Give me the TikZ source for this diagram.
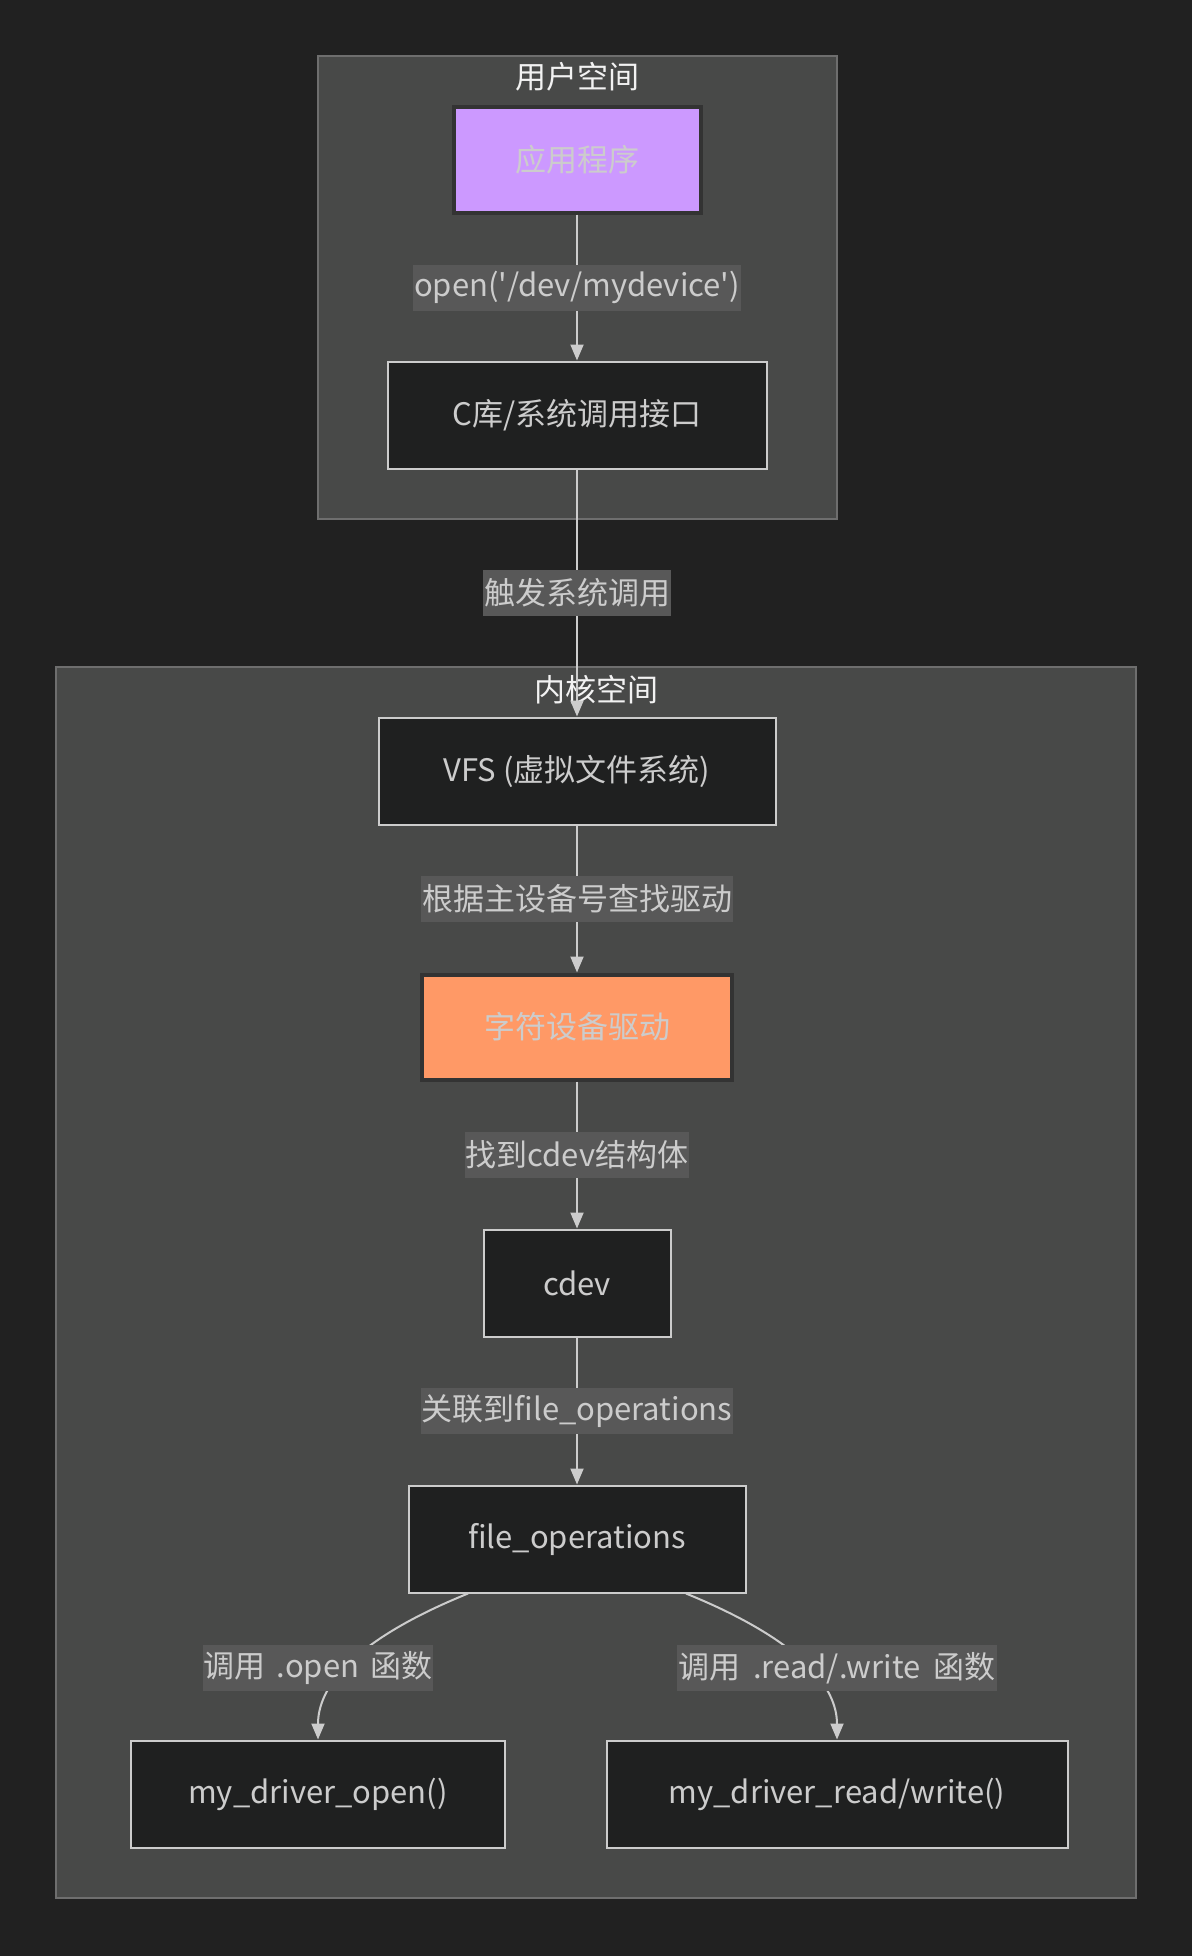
\documentclass[tikz,border=0pt]{standalone}
\usepackage{fontspec}
\setmainfont{Noto Sans CJK SC}
\usetikzlibrary{arrows.meta,positioning}

\definecolor{bg}{HTML}{212121}
\definecolor{clusterfill}{HTML}{484948}
\definecolor{clusterline}{HTML}{6E6E6E}
\definecolor{nodefill}{HTML}{1F2020}
\definecolor{lblfill}{HTML}{585858}
\definecolor{txt}{HTML}{CCCCCC}
\definecolor{dark}{HTML}{333333}
\definecolor{appcol}{HTML}{CC99FF}
\definecolor{drvcol}{HTML}{FF9966}

\begin{document}
\begin{tikzpicture}[x=1pt, y=-1pt,
    every node/.style={font=\fontsize{31}{37}\selectfont, text=txt},
    box/.style={draw=txt, fill=nodefill, line width=2pt, minimum height=107pt},
    hot/.style={draw=dark, line width=4pt, minimum height=105pt},
    cluster/.style={draw=clusterline, fill=clusterfill, line width=1.5pt},
    title/.style={text=white!95!black},
    lbl/.style={fill=lblfill, inner xsep=1pt, inner ysep=0pt, minimum height=46pt},
    arrow/.style={-{Triangle[length=16pt,width=13pt]}, draw=txt, line width=2pt}
]

% sfondo
\fill[bg] (0,0) rectangle (1192,1956);

% spazio utente / spazio kernel
\draw[cluster] (318,56) rectangle (837,519);
\node[title] (tuser) at (577,77) {用户空间};
\draw[cluster] (56,667) rectangle (1136,1898);
\node[title] (tkern) at (596,690) {内核空间};

% nodi
\node[hot, fill=appcol, minimum width=247pt] (app) at (577,160) {应用程序};
\node[box, minimum width=379pt] (clib) at (577,415) {C库/系统调用接口};
\node[box, minimum width=397pt] (vfs) at (577,771) {VFS (虚拟文件系统)};
\node[hot, fill=drvcol, minimum width=310pt] (chr) at (577,1027) {字符设备驱动};
\node[box, minimum width=187pt] (cdev) at (577,1283) {cdev};
\node[box, minimum width=337pt] (fops) at (577,1539) {file\_operations};
\node[box, minimum width=374pt] (myopen) at (318,1794) {my\_driver\_open()};
\node[box, minimum width=461pt] (myrw) at (837,1794) {my\_driver\_read/write()};

% frecce
\draw[arrow] (app) -- node[lbl] {open(\textquotesingle/dev/mydevice\textquotesingle)} (clib);
\draw[arrow] (clib) -- node[lbl] {触发系统调用} (vfs);
\draw[arrow] (vfs) -- node[lbl] {根据主设备号查找驱动} (chr);
\draw[arrow] (chr) -- node[lbl] {找到cdev结构体} (cdev);
\draw[arrow] (cdev) -- node[lbl] {关联到file\_operations} (fops);

% rami verso le funzioni
\coordinate (c6) at (318,1668);
\coordinate (c7) at (837,1668);
\draw[arrow] ([xshift=-109pt]fops.south) .. controls +(-118,48) and +(0,-51) .. (myopen.north);
\draw[arrow] ([xshift=109pt]fops.south) .. controls +(118,48) and +(0,-51) .. (myrw.north);
\node[lbl] (l6) at (c6) {调用\hspace{11pt}.open\hspace{11pt}函数};
\node[lbl] (l7) at (c7) {调用\hspace{13pt}.read/.write\hspace{13pt}函数};

\end{tikzpicture}
\end{document}
